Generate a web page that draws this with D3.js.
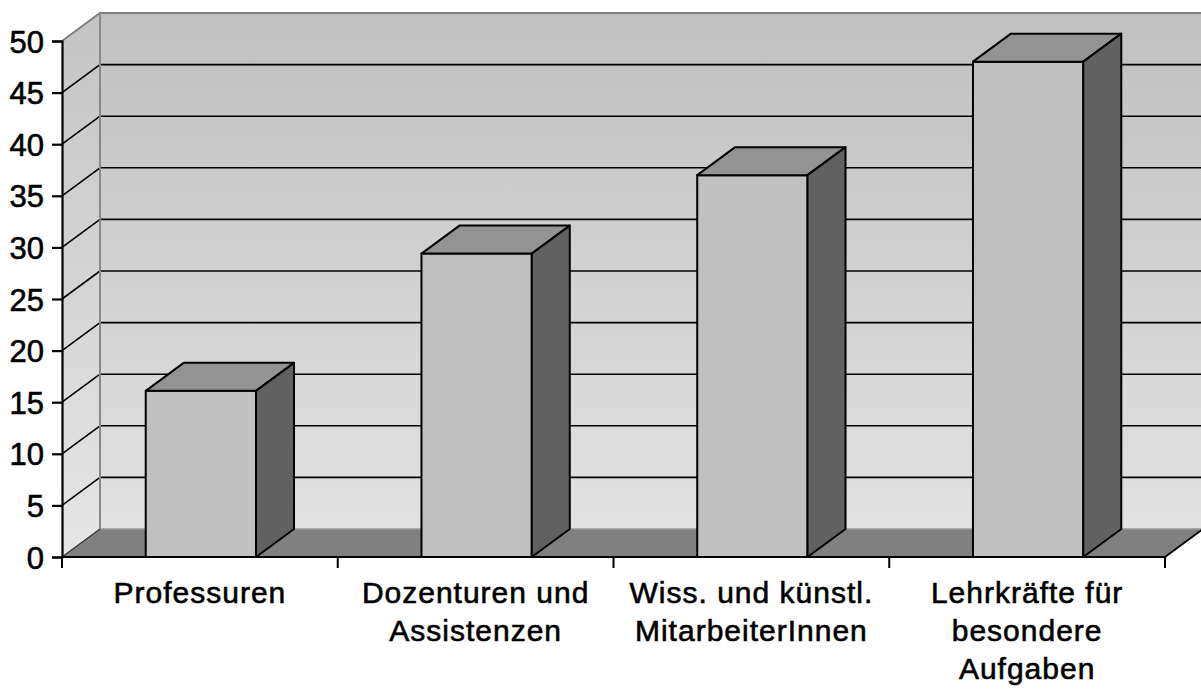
<!DOCTYPE html>
<html><head><meta charset="utf-8">
<script src="https://cdn.jsdelivr.net/npm/d3@7"></script>
<style>html,body{margin:0;padding:0;background:#fff;overflow:hidden}</style>
</head><body>
<svg id="chart" width="1201" height="689"></svg>
<script>
const categories = [["Professuren"], ["Dozenturen und", "Assistenzen"], ["Wiss. und künstl.", "MitarbeiterInnen"], ["Lehrkräfte für", "besondere", "Aufgaben"]];
const values = [16.1, 29.4, 37.0, 48.0];
const yTicks = [0, 5, 10, 15, 20, 25, 30, 35, 40, 45, 50];

const svg = d3.select("#chart");
const pL = 62, pR = 1165, pB = 557, pT = 41;
const dx = 38, dy = -28;

const y = d3.scaleLinear().domain([0, 50]).range([pB, pT]);
const x = d3.scaleBand().domain(d3.range(categories.length)).range([pL, pR]).paddingInner(0).paddingOuter(0);

const defs = svg.append("defs");
const grad = defs.append("linearGradient").attr("id", "wallGrad").attr("x1", 0).attr("y1", 0).attr("x2", 0).attr("y2", 1);
grad.append("stop").attr("offset", "0%").attr("stop-color", "#c0c0c0");
grad.append("stop").attr("offset", "100%").attr("stop-color", "#e2e2e2");
const gradS = defs.append("linearGradient").attr("id", "sideGrad").attr("x1", 0).attr("y1", 0).attr("x2", 0).attr("y2", 1);
gradS.append("stop").attr("offset", "0%").attr("stop-color", "#c4c4c4");
gradS.append("stop").attr("offset", "100%").attr("stop-color", "#e6e6e6");

const poly = pts => "M" + pts.map(p => p.join(",")).join("L") + "Z";

// back wall
const bx0 = pL + dx, bx1 = pR + dx + 2;
svg.append("path").attr("d", poly([[bx0, y(50) + dy], [bx1, y(50) + dy], [bx1, y(0) + dy], [bx0, y(0) + dy]]))
  .attr("fill", "url(#wallGrad)").attr("stroke", "none");
// side wall
svg.append("path").attr("d", poly([[pL, y(50)], [bx0, y(50) + dy], [bx0, y(0) + dy], [pL, y(0)]]))
  .attr("fill", "url(#sideGrad)").attr("stroke", "none");

// gridlines
const gl = yTicks.filter(v => v > 0 && v < 50);
svg.append("g").selectAll("line").data(gl).join("line")
  .attr("x1", bx0).attr("x2", bx1).attr("y1", d => y(d) + dy).attr("y2", d => y(d) + dy)
  .attr("stroke", "#000").attr("stroke-width", 1.6);
svg.append("g").selectAll("line").data(gl).join("line")
  .attr("x1", pL).attr("x2", bx0).attr("y1", d => y(d)).attr("y2", d => y(d) + dy)
  .attr("stroke", "#000").attr("stroke-width", 1.6);

// wall edges (gray)
svg.append("path").attr("d", `M${pL},${y(50)}L${bx0},${y(50) + dy}L${bx1},${y(50) + dy}`)
  .attr("fill", "none").attr("stroke", "#808080").attr("stroke-width", 2);
svg.append("line").attr("x1", bx0).attr("x2", bx0).attr("y1", y(50) + dy).attr("y2", y(0) + dy)
  .attr("stroke", "#888").attr("stroke-width", 2);

// floor
svg.append("path").attr("d", poly([[pL, y(0)], [bx0, y(0) + dy], [bx1, y(0) + dy], [pR, y(0)]]))
  .attr("fill", "#808080").attr("stroke", "none");
svg.append("line").attr("x1", bx0).attr("x2", bx1).attr("y1", y(0) + dy).attr("y2", y(0) + dy)
  .attr("stroke", "#999").attr("stroke-width", 1.5);
svg.append("line").attr("x1", pL).attr("x2", bx0).attr("y1", y(0)).attr("y2", y(0) + dy)
  .attr("stroke", "#333").attr("stroke-width", 1.2);
svg.append("line").attr("x1", pR).attr("x2", pR + dx).attr("y1", y(0)).attr("y2", y(0) + dy)
  .attr("stroke", "#000").attr("stroke-width", 1.8);

// bars
const bw = x.bandwidth() * 0.4;
const bars = svg.append("g").selectAll("g").data(values).join("g");
bars.each(function (v, i) {
  const g = d3.select(this);
  const x0 = x(i) + (x.bandwidth() - bw) / 2 + 1, x1 = x0 + bw;
  const yt = y(v), yb = y(0);
  g.append("path").attr("d", poly([[x0, yt], [x1, yt], [x1, yb], [x0, yb]]))
    .attr("fill", "#c0c0c0").attr("stroke", "#000").attr("stroke-width", 2).attr("stroke-linejoin", "round");
  g.append("path").attr("d", poly([[x0, yt], [x0 + dx, yt + dy], [x1 + dx, yt + dy], [x1, yt]]))
    .attr("fill", "#939393").attr("stroke", "#000").attr("stroke-width", 2).attr("stroke-linejoin", "round");
  g.append("path").attr("d", poly([[x1, yt], [x1 + dx, yt + dy], [x1 + dx, yb + dy], [x1, yb]]))
    .attr("fill", "#616161").attr("stroke", "#000").attr("stroke-width", 2).attr("stroke-linejoin", "round");
});

// y axis
const yAxis = svg.append("g").attr("transform", `translate(${pL},0)`)
  .call(d3.axisLeft(y).tickValues(yTicks).tickSize(10).tickPadding(8).tickFormat(d3.format("d")));
yAxis.select(".domain").attr("stroke", "#000").attr("stroke-width", 2.2);
yAxis.selectAll(".tick line").attr("stroke", "#000").attr("stroke-width", 2.2);
yAxis.selectAll(".tick text").attr("fill", "#000").attr("stroke", "#000").attr("stroke-width", 0.6)
  .style("font-family", "'Liberation Sans', Arial, sans-serif").style("font-size", "31px").attr("dy", "0.36em");

// x axis
const xTickPos = d3.range(categories.length + 1).map(i => pL + i * x.bandwidth());
svg.append("line").attr("x1", pL).attr("x2", pR).attr("y1", y(0)).attr("y2", y(0))
  .attr("stroke", "#000").attr("stroke-width", 2.2);
svg.append("g").selectAll("line").data(xTickPos).join("line")
  .attr("x1", d => d).attr("x2", d => d).attr("y1", y(0)).attr("y2", y(0) + 11)
  .attr("stroke", "#000").attr("stroke-width", 2);

const labels = svg.append("g").selectAll("text").data(categories).join("text")
  .attr("x", (d, i) => x(i) + x.bandwidth() / 2)
  .attr("y", 603)
  .attr("text-anchor", "middle")
  .attr("fill", "#000").attr("stroke", "#000").attr("stroke-width", 0.6)
  .style("font-family", "'Liberation Sans', Arial, sans-serif")
  .style("font-size", "30px")
  .style("letter-spacing", "1px");
labels.each(function (lines, i) {
  const t = d3.select(this);
  lines.forEach((l, j) => {
    t.append("tspan").attr("x", x(i) + x.bandwidth() / 2).attr("y", 603 + j * 38).text(l);
  });
});
</script>
</body></html>
